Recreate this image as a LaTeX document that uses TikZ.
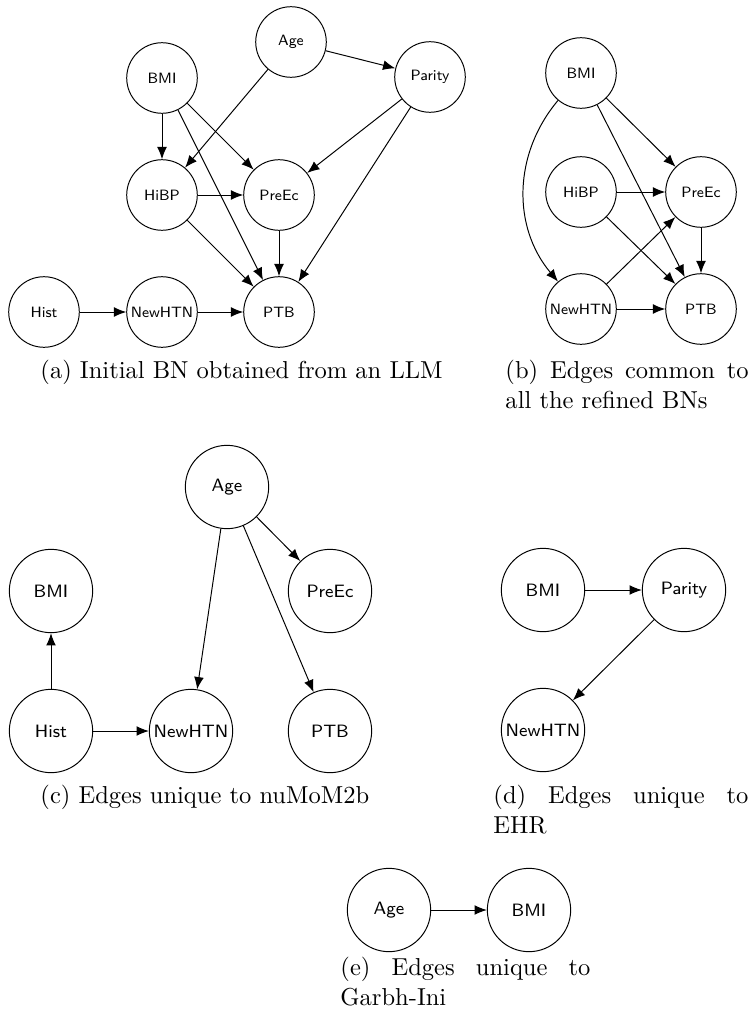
\documentclass[tikz,border=0pt]{standalone}
\usetikzlibrary{arrows.meta}

\begin{document}
\begin{tikzpicture}[
    x=0.408pt, y=-0.408pt, >={Latex[length=5pt, width=4pt]},
    var/.style={circle, draw, inner sep=1pt, minimum size=28.8pt,
                font=\sffamily\fontsize{6.1}{7}\selectfont},
    bigvar/.style={var, minimum size=34pt, font=\sffamily\fontsize{7.3}{8.5}\selectfont},
    subcap/.style={anchor=north west, inner sep=0pt, align=justify, text width=#1},
]
  \useasboundingbox (0,0) rectangle (752,1020);

  % (a) network from the LLM
  \node [var] (aAge)    at (291, 42) {Age};
  \node [var] (aBMI)    at (162, 78) {BMI};
  \node [var] (aParity) at (430, 77) {Parity} edge [<-] (aAge);
  \node [var] (aHiBP)   at (162,195) {HiBP}   edge [<-] (aAge)
                                              edge [<-] (aBMI);
  \node [var] (aPreEc)  at (279,195) {PreEc}  edge [<-] (aBMI)
                                              edge [<-] (aParity)
                                              edge [<-] (aHiBP);
  \node [var] (aHist)   at ( 44,312) {Hist};
  \node [var] (aNewHTN) at (162,312) {NewHTN} edge [<-] (aHist);
  \node [var] (aPTB)    at (279,312) {PTB}    edge [<-] (aBMI)
                                              edge [<-] (aParity)
                                              edge [<-] (aHiBP)
                                              edge [<-] (aPreEc)
                                              edge [<-] (aNewHTN);
  \node [subcap=170pt] (capA) at (40,360) {(a) Initial BN obtained from an LLM};

  % (b) common edges
  \node [var] (bBMI)    at (581, 73) {BMI};
  \node [var] (bHiBP)   at (581,192) {HiBP};
  \node [var] (bNewHTN) at (581,309) {NewHTN} edge [<-, bend left=40] (bBMI);
  \node [var] (bPreEc)  at (701,192) {PreEc}  edge [<-] (bBMI)
                                              edge [<-] (bHiBP)
                                              edge [<-] (bNewHTN);
  \node [var] (bPTB)    at (701,309) {PTB}    edge [<-] (bBMI)
                                              edge [<-] (bHiBP)
                                              edge [<-] (bNewHTN)
                                              edge [<-] (bPreEc);
  \node [subcap=99.2pt] (capB) at (505,360) {(b) Edges common to all the refined BNs};

  % (c) nuMoM2b only
  \node [bigvar] (cAge)    at (227,487) {Age};
  \node [bigvar] (cHist)   at ( 51,731) {Hist};
  \node [bigvar] (cBMI)    at ( 51,591) {BMI}    edge [<-] (cHist);
  \node [bigvar] (cPreEc)  at (330,591) {PreEc}  edge [<-] (cAge);
  \node [bigvar] (cNewHTN) at (191,731) {NewHTN} edge [<-] (cAge)
                                                 edge [<-] (cHist);
  \node [bigvar] (cPTB)    at (330,731) {PTB}    edge [<-] (cAge);
  \node [subcap=170pt] (capC) at (40,785) {(c) Edges unique to nuMoM2b};

  % (d) EHR only
  \node [bigvar] (dBMI)    at (543,590) {BMI};
  \node [bigvar] (dParity) at (684,590) {Parity} edge [<-] (dBMI);
  \node [bigvar] (dNewHTN) at (543,730) {NewHTN} edge [<-] (dParity);
  \node [subcap=104pt] (capD) at (493,785) {(d) Edges unique to EHR};

  % (e) Garbh-Ini only
  \node [bigvar] (eAge) at (389,910) {Age};
  \node [bigvar] (eBMI) at (529,910) {BMI} edge [<-] (eAge);
  \node [subcap=102pt] (capE) at (340,957) {(e) Edges unique to Garbh-Ini};
\end{tikzpicture}
\end{document}
